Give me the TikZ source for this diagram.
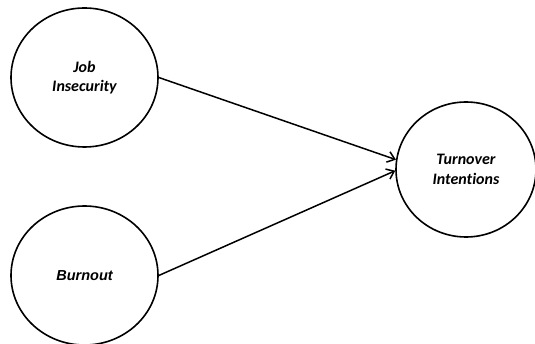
\documentclass[tikz,border=0pt]{standalone}
\usepackage{fontspec}
\setmainfont[Ligatures=NoCommon]{Carlito}
\newfontfamily\arialfont{Liberation Sans}
\usetikzlibrary{shapes.geometric,arrows.meta}
\begin{document}
\begin{tikzpicture}[x=1pt,y=-1pt,
  construct/.style={ellipse,draw,line width=1.6pt,inner sep=0pt,
    minimum width=147pt,minimum height=139pt,align=center,
    font=\fontsize{16}{19.5}\selectfont\bfseries\itshape},
  path/.style={line width=1.5pt,-{Straight Barb[length=7pt,width=11pt,line width=1.5pt]}}]
\useasboundingbox (0,0) rectangle (535,344);
\node[construct] (J) at (84.5,77.5) {Job\\Insecurity};
\node[construct,font=\arialfont\fontsize{14.5}{18}\selectfont\bfseries\itshape] (B) at (84.5,275.5) {Burnout};
\node[construct,minimum width=140pt,minimum height=135pt] (T) at (466,169.5) {Turnover\\Intentions};
\draw[path] (J.east) -- (T.172);
\draw[path] (B.east) -- (T.181);
\end{tikzpicture}
\end{document}
